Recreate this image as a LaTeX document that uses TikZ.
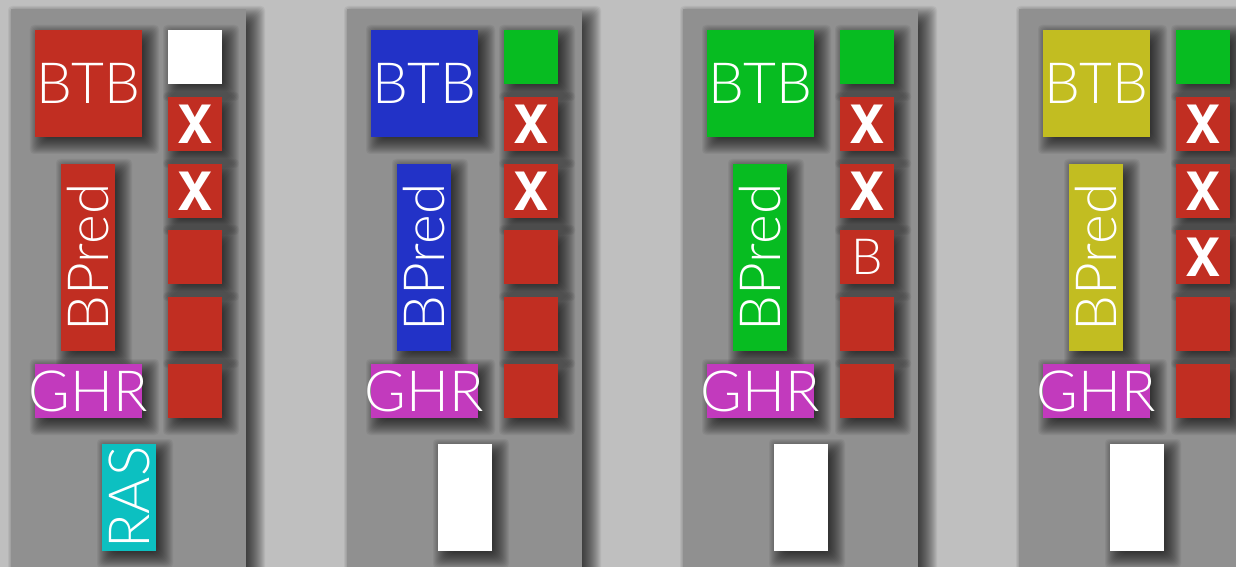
\documentclass[tikz,border=0pt]{standalone}
\usepackage{fontspec}
\newfontfamily\thinf{Lato Light}
\newfontfamily\heavyf{TeX Gyre Heros}
\definecolor{bgc}{HTML}{BFBFBF}
\definecolor{panelc}{HTML}{909090}
\definecolor{redc}{HTML}{C12E22}
\definecolor{bluec}{HTML}{2232C7}
\definecolor{greenc}{HTML}{07BC21}
\definecolor{olivec}{HTML}{C2BD21}
\definecolor{magc}{HTML}{C23ABD}
\definecolor{cyanc}{HTML}{0CC0C1}
\pgfdeclarelayer{bgl}
\pgfdeclarelayer{pshadow}
\pgfdeclarelayer{panels}
\pgfdeclarelayer{nshadow}
\pgfsetlayers{bgl,pshadow,panels,nshadow,main}
\tikzset{
  txtf/.style={font=\thinf\fontsize{57}{57}\selectfont},
  box/.style={inner sep=0pt, outer sep=0pt, minimum width=54bp, minimum height=54bp, text=white, txtf},
  bigbox/.style={box, minimum width=107bp, minimum height=107bp},
  widebox/.style={box, minimum width=107bp},
  tallbox/.style={box, minimum height=187bp},
  rasbox/.style={box, minimum height=107bp},
  xbox/.style={box, fill=redc, font=\heavyf\bfseries\fontsize{53}{53}\selectfont},
  vlabel/.style={rotate=90, text=white, txtf, inner sep=0pt},
  shadowpiece/.style={fill=black, opacity=0.05, rounded corners=4bp},
}
\begin{document}
\begin{tikzpicture}[x=1bp,y=-1bp]
\begin{pgfonlayer}{bgl}
  \fill[bgc] (0,0) rectangle (1236,567);
\end{pgfonlayer}
\useasboundingbox (0,0) rectangle (1236,567);
\foreach \i/\ox/\col in {1/0/redc, 2/336/bluec, 3/672/greenc, 4/1008/olivec}{
  \begin{scope}[shift={(\ox,0)}]
    \begin{pgfonlayer}{panels}
      \fill[panelc] (11,9) rectangle (246,620);
    \end{pgfonlayer}
    \begin{pgfonlayer}{pshadow}
      \foreach \r in {-8,...,11}
        \fill[shadowpiece] ({11+8-\r},{9+8-\r}) rectangle ({246+8+\r},640);
    \end{pgfonlayer}
    \node[bigbox, fill=\col] (btb\i) at (88.5,83.5) {\makebox[0pt]{BTB}};
    \node[tallbox, fill=\col] (bpred\i) at (88,257.5) {};
    \node[vlabel] (bpredt\i) at (bpred\i.center) {\makebox[0pt]{BPred}};
    \node[widebox, fill=magc] (ghr\i) at (88.5,391) {\makebox[0pt]{GHR}};
    \node[xbox] (xa\i) at (195,124) {X};
    \node[xbox] (xb\i) at (195,191) {X};
    \node[box, fill=redc] (re\i) at (195,324) {};
    \node[box, fill=redc] (rf\i) at (195,391) {};
  \end{scope}
}
% panel-specific cells
\node[box, fill=white] (t1) at (195,57) {};
\node[box, fill=greenc] (t2) at (531,57) {};
\node[box, fill=greenc] (t3) at (867,57) {};
\node[box, fill=greenc] (t4) at (1203,57) {};
\node[box, fill=redc] (rd1) at (195,257) {};
\node[box, fill=redc] (rd2) at (531,257) {};
\node[box, fill=redc, font=\thinf\fontsize{50}{50}\selectfont] (rd3) at (867,257) {B};
\node[xbox] (rd4) at (1203,257) {X};
% bottom cells
\node[rasbox, fill=cyanc] (bot1) at (129,497.5) {};
\node[vlabel] (rast1) at (bot1.center) {\makebox[0pt]{RAS}};
\node[rasbox, fill=white] (bot2) at (465,497.5) {};
\node[rasbox, fill=white] (bot3) at (801,497.5) {};
\node[rasbox, fill=white] (bot4) at (1137,497.5) {};
% soft drop shadows of all cells
\begin{pgfonlayer}{nshadow}
  \foreach \i in {1,2,3,4}{
    \foreach \m in {btb,bpred,ghr,xa,xb,re,rf,t,rd,bot}{
      \foreach \r in {-6,...,11}
        \fill[shadowpiece] ([shift={({6-\r},{6-\r})}]\m\i.north west) rectangle ([shift={({6+\r},{6+\r})}]\m\i.south east);
    }
  }
\end{pgfonlayer}
\end{tikzpicture}
\end{document}
